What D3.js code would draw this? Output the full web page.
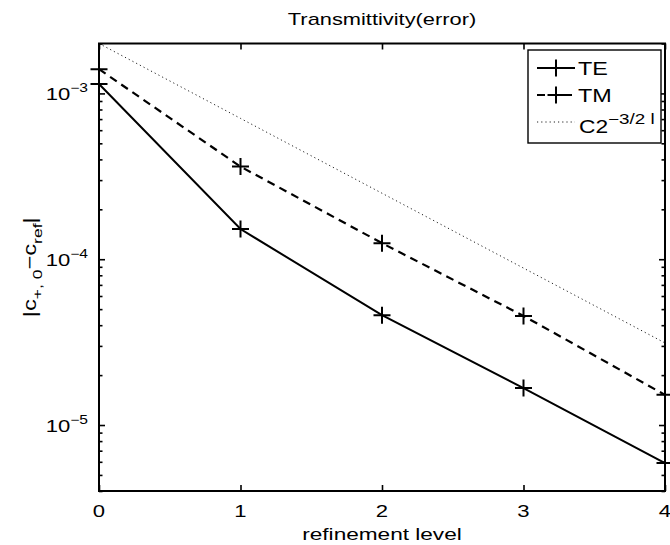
<!DOCTYPE html>
<html>
<head>
<meta charset="utf-8">
<script src="https://cdn.jsdelivr.net/npm/d3@7"></script>
<style>
  html, body { margin: 0; padding: 0; background: #fff; }
  svg { display: block; font-family: "Liberation Sans", Arial, Helvetica, sans-serif; }
</style>
</head>
<body>
<svg id="chart" width="670" height="545"></svg>
<script>
// refinement levels on the x axis
const levels = [0, 1, 2, 3, 4];
// |c_{+,0} - c_ref| for the TE polarisation
const teError = [1.14e-3, 1.52e-4, 4.6e-5, 1.67e-5, 5.9e-6];
// |c_{+,0} - c_ref| for the TM polarisation
const tmError = [1.40e-3, 3.62e-4, 1.25e-4, 4.55e-5, 1.52e-5];
// reference rate C 2^{-3/2 l}
const rateRef = [2.0e-3, 7.07e-4, 2.5e-4, 8.84e-5, 3.125e-5];

const xTickValues = [0, 1, 2, 3, 4];
const yMajorTicks = [1e-5, 1e-4, 1e-3];
const yMajorExponents = ["−5", "−4", "−3"];
const yDomain = [4e-6, 2e-3];

const seriesNames = ["TE", "TM"];

const W = 670, H = 545;
const plot = { left: 99, right: 665, top: 43.5, bottom: 491 };
// the typeface is drawn wide: horizontal stretch applied to every label
const STRETCH = 1.3;
const FONT = "Liberation Sans, Arial, sans-serif";

const svg = d3.select("#chart");
svg.append("rect").attr("width", W).attr("height", H).attr("fill", "#fff");

// text placed at (tx, ty), widened along its own direction
function wideText(parent, tx, ty, anchor, size, rotate) {
  const g = parent.append("g")
    .attr("transform", `translate(${tx},${ty})${rotate ? ` rotate(${rotate})` : ""} scale(${STRETCH},1)`);
  return g.append("text")
    .attr("x", 0).attr("y", 0)
    .attr("text-anchor", anchor)
    .attr("font-size", size)
    .attr("font-family", FONT)
    .attr("fill", "#000");
}

const x = d3.scaleLinear().domain([levels[0], levels[levels.length - 1]]).range([plot.left, plot.right]);
const y = d3.scaleLog().domain(yDomain).range([plot.bottom, plot.top]);

// minor ticks of the log axis: 2..9 times each power of ten inside the domain
const yMinorTicks = [];
for (let e = -6; e <= -3; e++) {
  for (let m = 2; m <= 9; m++) {
    const v = m * Math.pow(10, e);
    if (v >= yDomain[0] * 0.9999 && v <= yDomain[1] * 1.0001) yMinorTicks.push(v);
  }
}

const line = d3.line().x((d, i) => x(levels[i])).y(d => y(d));

// reference slope (dotted)
svg.append("path")
  .datum(rateRef)
  .attr("d", line)
  .attr("fill", "none")
  .attr("stroke", "#222")
  .attr("stroke-width", 1)
  .attr("stroke-dasharray", "1.2,3");

// TM (dashed)
svg.append("path")
  .datum(tmError)
  .attr("d", line)
  .attr("fill", "none")
  .attr("stroke", "#000")
  .attr("stroke-width", 2.2)
  .attr("stroke-dasharray", "8,5.5");

// TE (solid)
svg.append("path")
  .datum(teError)
  .attr("d", line)
  .attr("fill", "none")
  .attr("stroke", "#000")
  .attr("stroke-width", 2);

// plus markers
const plusPath = (cx, cy, r) => `M${cx - r},${cy}H${cx + r}M${cx},${cy - r}V${cy + r}`;
[teError, tmError].forEach(series => {
  svg.append("g").selectAll("path")
    .data(series)
    .join("path")
    .attr("d", (d, i) => plusPath(x(levels[i]), y(d), 8.5))
    .attr("stroke", "#000")
    .attr("stroke-width", 2)
    .attr("fill", "none");
});

// axes: inward ticks on all four sides
const gx = svg.append("g").attr("transform", `translate(0,${plot.bottom})`)
  .call(d3.axisBottom(x).tickValues(xTickValues).tickSizeInner(-6).tickSizeOuter(0).tickFormat(""));
const gxTop = svg.append("g").attr("transform", `translate(0,${plot.top})`)
  .call(d3.axisTop(x).tickValues(xTickValues).tickSizeInner(-6).tickSizeOuter(0).tickFormat(""));

const gyL = svg.append("g").attr("transform", `translate(${plot.left},0)`)
  .call(d3.axisLeft(y).tickValues(yMajorTicks).tickSizeInner(-6).tickSizeOuter(0).tickFormat(""));
const gyLm = svg.append("g").attr("transform", `translate(${plot.left},0)`)
  .call(d3.axisLeft(y).tickValues(yMinorTicks).tickSizeInner(-3.5).tickSizeOuter(0).tickFormat(""));
const gyR = svg.append("g").attr("transform", `translate(${plot.right},0)`)
  .call(d3.axisRight(y).tickValues(yMajorTicks).tickSizeInner(-6).tickSizeOuter(0).tickFormat(""));
const gyRm = svg.append("g").attr("transform", `translate(${plot.right},0)`)
  .call(d3.axisRight(y).tickValues(yMinorTicks).tickSizeInner(-3.5).tickSizeOuter(0).tickFormat(""));

[gx, gxTop, gyL, gyLm, gyR, gyRm].forEach(g => {
  g.select(".domain").remove();
  g.selectAll(".tick line").attr("stroke", "#000").attr("stroke-width", 1.6);
  g.selectAll(".tick text").remove();
});

// x tick labels
xTickValues.forEach(v => {
  wideText(svg, x(v), 517, "middle", 17).text(d3.format("d")(v));
});

// log-axis labels 10^k
yMajorTicks.forEach((v, i) => {
  const t = wideText(svg, 88, y(v) + 7, "end", 17);
  t.append("tspan").text("10");
  t.append("tspan").attr("dy", -8).attr("font-size", 12).text(yMajorExponents[i]);
});

// frame
svg.append("rect")
  .attr("x", plot.left).attr("y", plot.top)
  .attr("width", plot.right - plot.left).attr("height", plot.bottom - plot.top)
  .attr("fill", "none").attr("stroke", "#000").attr("stroke-width", 2);

// title
wideText(svg, (plot.left + plot.right) / 2, 25, "middle", 16.8).text("Transmittivity(error)");

// x label
wideText(svg, (plot.left + plot.right) / 2, 540, "middle", 17.4).text("refinement level");

// y label |c_{+, 0} − c_{ref}|
const yl = wideText(svg, 36, (plot.top + plot.bottom) / 2, "middle", 18.2, -90);
yl.append("tspan").text("|c");
yl.append("tspan").attr("dy", 6).attr("font-size", 13.5).text("+, 0");
yl.append("tspan").attr("dy", -6).text("−c");
yl.append("tspan").attr("dy", 6).attr("font-size", 13.5).text("ref");
yl.append("tspan").attr("dy", -6).text("|");

// legend
const lg = svg.append("g");
lg.append("rect")
  .attr("x", 528).attr("y", 50).attr("width", 133).attr("height", 93)
  .attr("fill", "#fff").attr("stroke", "#000").attr("stroke-width", 1.4);
const legendRows = [68, 95, 122];
const legendStyles = [
  { dash: null, width: 2, marker: true },
  { dash: "8,5.5", width: 2.2, marker: true },
  { dash: "1.2,3", width: 1, marker: false, color: "#222" }
];
legendStyles.forEach((s, i) => {
  const ry = legendRows[i];
  lg.append("line")
    .attr("x1", 537).attr("x2", 575).attr("y1", ry).attr("y2", ry)
    .attr("stroke", s.color || "#000").attr("stroke-width", s.width)
    .attr("stroke-dasharray", s.dash);
  if (s.marker) {
    lg.append("path").attr("d", plusPath(556, ry, 8.5))
      .attr("stroke", "#000").attr("stroke-width", 2);
  }
});
seriesNames.forEach((name, i) => {
  wideText(lg, 578, legendRows[i] + 6.5, "start", 18).text(name);
});
const rateLabel = wideText(lg, 579, legendRows[2] + 11, "start", 17.5);
rateLabel.append("tspan").text("C2");
rateLabel.append("tspan").attr("dy", -9).attr("font-size", 14.5).text("−3/2 l");
</script>
</body>
</html>
